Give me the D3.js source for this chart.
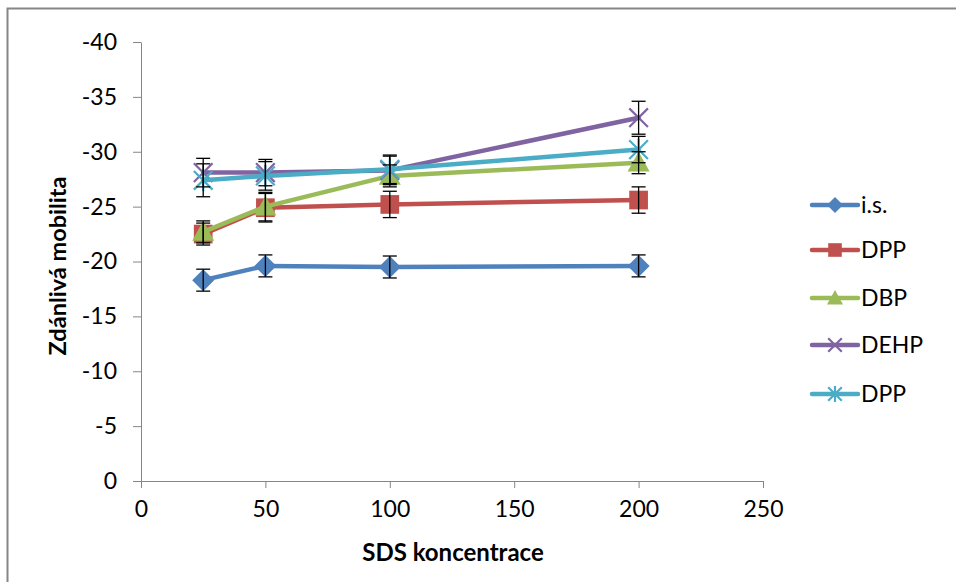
<!DOCTYPE html>
<html><head><meta charset="utf-8">
<script src="https://cdn.jsdelivr.net/npm/d3@7"></script>
<style>body{margin:0;background:#fff}svg{display:block}</style>
</head><body>
<svg id="c" width="956" height="582"></svg>
<script>
const concentrations = [25, 50, 100, 200];
const seriesNames = ["i.s.", "DPP", "DBP", "DEHP", "DPP"];
const isValues   = [-18.3, -19.6, -19.5, -19.6];
const dppValues  = [-22.5, -24.9, -25.2, -25.6];
const dbpValues  = [-22.7, -25.0, -27.8, -29.0];
const dehpValues = [-28.1, -28.1, -28.3, -33.1];
const dpp2Values = [-27.4, -27.8, -28.4, -30.2];
const isErr   = [1.0, 1.0, 1.0, 1.0];
const dppErr  = [1.0, 1.3, 1.2, 1.2];
const dbpErr  = [1.0, 1.3, 1.0, 1.0];
const dehpErr = [1.3, 1.2, 1.3, 1.5];
const dpp2Err = [1.5, 1.3, 1.3, 1.2];
const xTicks = [0, 50, 100, 150, 200, 250];
const yTicks = [0, -5, -10, -15, -20, -25, -30, -35, -40];
const colors = ["#4F81BD", "#C0504D", "#9BBB59", "#8064A2", "#4BACC6"];
const markers = ["diamond", "square", "triangle", "x", "star"];

const series = [isValues, dppValues, dbpValues, dehpValues, dpp2Values].map((v, i) => ({
  name: seriesNames[i], values: v,
  err: [isErr, dppErr, dbpErr, dehpErr, dpp2Err][i],
  color: colors[i], marker: markers[i]
}));

const svg = d3.select("#c");
const font = "Lato, 'Open Sans', sans-serif";
svg.append("rect").attr("x", 7.5).attr("y", 8.5).attr("width", 1000).attr("height", 1000)
  .attr("fill", "#fff").attr("stroke", "#868686").attr("stroke-width", 2);

const x = d3.scaleLinear().domain([0, 250]).range([141, 763]);
const y = d3.scaleLinear().domain([0, -40]).range([481, 42]);

const xAxis = svg.append("g").attr("transform", "translate(0,481)")
  .call(d3.axisBottom(x).tickValues(xTicks).tickFormat(d => String(d)).tickSize(7).tickSizeOuter(0).tickPadding(13));
const yAxis = svg.append("g").attr("transform", "translate(141,0)")
  .call(d3.axisLeft(y).tickValues(yTicks).tickFormat(d => String(d)).tickSize(8).tickSizeOuter(0).tickPadding(16));
[xAxis, yAxis].forEach(a => {
  a.select(".domain").attr("stroke", "#868686").attr("stroke-width", 1);
  a.selectAll(".tick line").attr("stroke", "#868686");
  a.selectAll(".tick text").attr("fill", "#000").style("font-family", font).style("font-size", "23px");
});

svg.append("text").attr("x", 453).attr("y", 561).attr("text-anchor", "middle")
  .style("font-family", font).style("font-size", "24px").style("font-weight", "bold").text("SDS koncentrace");
svg.append("text").attr("transform", "translate(66,266) rotate(-90)").attr("text-anchor", "middle")
  .style("font-family", font).style("font-size", "23.5px").style("font-weight", "bold").text("Zdánlivá mobilita");

function drawMarker(g, type, color, s) {
  if (type === "diamond") {
    g.append("path").attr("d", `M0,${-s}L${s},0L0,${s}L${-s},0Z`).attr("fill", color);
  } else if (type === "square") {
    g.append("rect").attr("x", -s*0.85).attr("y", -s*0.85).attr("width", s*1.7).attr("height", s*1.7).attr("fill", color);
  } else if (type === "triangle") {
    g.append("path").attr("d", `M0,${-s}L${s},${s*0.8}L${-s},${s*0.8}Z`).attr("fill", color);
  } else if (type === "x") {
    const a = s*0.85;
    g.append("path").attr("d", `M${-a},${-a}L${a},${a}M${-a},${a}L${a},${-a}`).attr("stroke", color).attr("stroke-width", 2.2).attr("fill", "none");
  } else if (type === "star") {
    const a = s*0.85;
    g.append("path").attr("d", `M${-a},${-a}L${a},${a}M${-a},${a}L${a},${-a}M0,${-s}L0,${s}`).attr("stroke", color).attr("stroke-width", 2.2).attr("fill", "none");
  }
}

const line = d3.line().x((d, i) => x(concentrations[i])).y(d => y(d));

series.forEach(s => {
  const g = svg.append("g");
  g.append("path").datum(s.values).attr("d", line).attr("fill", "none")
    .attr("stroke", s.color).attr("stroke-width", 4.5).attr("stroke-linejoin", "round").attr("stroke-linecap", "round");
  s.values.forEach((v, i) => {
    const cx = x(concentrations[i]);
    drawMarker(g.append("g").attr("transform", `translate(${cx},${y(v)})`), s.marker, s.color, 11);
  });
});
// error bars on top
series.forEach(s => {
  const g = svg.append("g").attr("stroke", "#000").attr("stroke-width", 1.3).attr("fill", "none");
  s.values.forEach((v, i) => {
    const cx = x(concentrations[i]);
    const y1 = y(v - s.err[i]), y2 = y(v + s.err[i]);
    g.append("line").attr("x1", cx).attr("x2", cx).attr("y1", y1).attr("y2", y2);
    g.append("line").attr("x1", cx - 7).attr("x2", cx + 7).attr("y1", y1).attr("y2", y1);
    g.append("line").attr("x1", cx - 7).attr("x2", cx + 7).attr("y1", y2).attr("y2", y2);
  });
});

// legend
const legendY = [205, 250, 298, 345, 394];
series.forEach((s, i) => {
  const g = svg.append("g").attr("transform", `translate(812,${legendY[i]})`);
  g.append("line").attr("x1", 0).attr("x2", 46).attr("stroke", s.color).attr("stroke-width", 4.5).attr("stroke-linecap", "round");
  drawMarker(g.append("g").attr("transform", "translate(23,0)"), s.marker, s.color, 8);
  g.append("text").attr("x", 49).attr("y", 0).attr("dy", "0.36em")
    .style("font-family", font).style("font-size", "23px").text(s.name);
});
</script>
</body></html>
